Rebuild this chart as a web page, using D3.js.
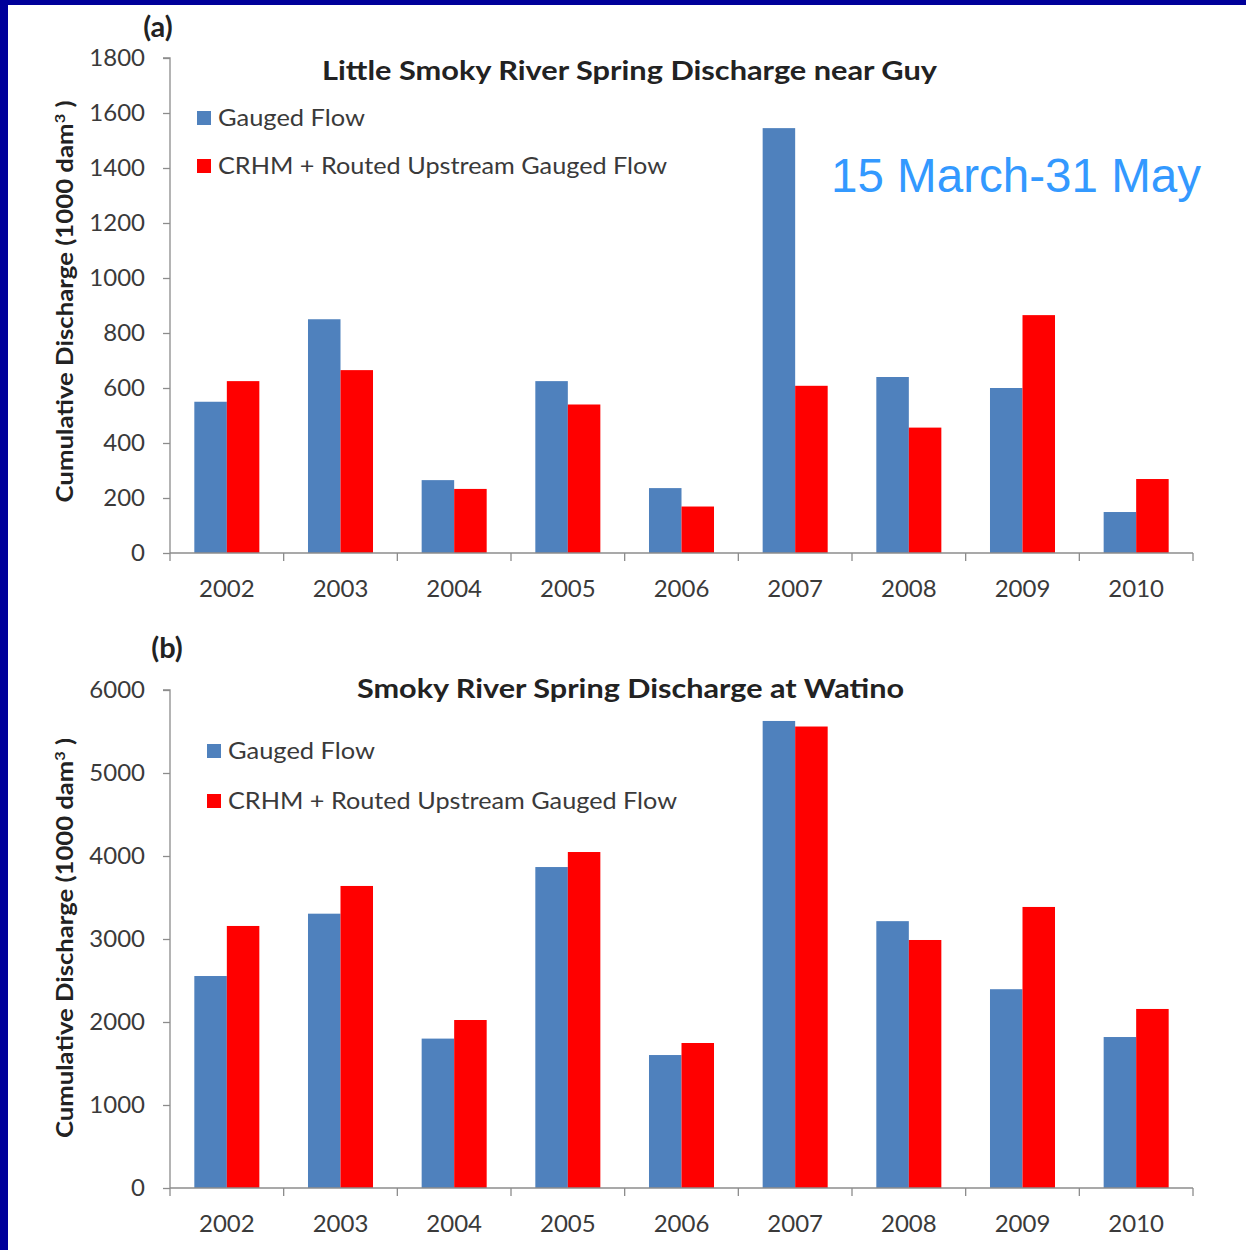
<!DOCTYPE html>
<html>
<head>
<meta charset="utf-8">
<script src="https://cdn.jsdelivr.net/npm/d3@7"></script>
<style>
  html, body { margin: 0; padding: 0; background: #00009a; }
  svg { display: block; }
</style>
</head>
<body>
<svg id="chart" width="1246" height="1250"></svg>
<script>
// Spring (15 March - 31 May) cumulative discharge, 1000 dam³
const years = ['2002', '2003', '2004', '2005', '2006', '2007', '2008', '2009', '2010'];
const seriesNames = ['Gauged Flow', 'CRHM + Routed Upstream Gauged Flow'];
const seriesColors = ['#4f81bd', '#ff0000'];

// (a) Little Smoky River near Guy
const guyGauged = [550, 850, 265, 625, 236, 1545, 640, 600, 149];
const guyModelled = [625, 665, 233, 540, 169, 608, 456, 865, 269];
const guyTicks = [0, 200, 400, 600, 800, 1000, 1200, 1400, 1600, 1800];

// (b) Smoky River at Watino
const watinoGauged = [2554, 3305, 1800, 3867, 1602, 5627, 3215, 2395, 1819];
const watinoModelled = [3157, 3639, 2024, 4048, 1747, 5560, 2988, 3386, 2157];
const watinoTicks = [0, 1000, 2000, 3000, 4000, 5000, 6000];

const svg = d3.select('#chart');
const FONT = 'Lato, "Open Sans", sans-serif';
const AXIS = '#8c8c8c';
const TEXT = '#3a3a3a';

// white slide area inside the navy frame
svg.append('rect').attr('x', 8).attr('y', 5).attr('width', 1238).attr('height', 1245).attr('fill', '#ffffff');

function drawPanel(p) {
  const g = svg.append('g');
  const x = d3.scaleBand().domain(years).range([p.left, p.right]).paddingInner(0).paddingOuter(0);
  const groupW = x.bandwidth() * 0.572;
  const inner = d3.scaleBand().domain([0, 1]).range([0, groupW]);
  const y = d3.scaleLinear().domain([0, p.max]).range([p.bottom, p.top]);

  // bars
  const rows = years.map((yr, i) => ({ yr, vals: [p.a[i], p.b[i]] }));
  const grp = g.selectAll('g.year').data(rows).enter().append('g')
    .attr('transform', d => `translate(${x(d.yr) + (x.bandwidth() - groupW) / 2},0)`);
  grp.selectAll('rect').data(d => d.vals).enter().append('rect')
    .attr('x', (d, i) => inner(i))
    .attr('width', inner.bandwidth())
    .attr('y', d => y(d))
    .attr('height', d => p.bottom - y(d))
    .attr('fill', (d, i) => seriesColors[i]);

  // y axis
  const yAxis = d3.axisLeft(y).tickValues(p.ticks).tickSize(7).tickPadding(18).tickFormat(d3.format('d'));
  const ya = g.append('g').attr('transform', `translate(${p.left},0)`).call(yAxis);
  ya.select('.domain').attr('stroke', AXIS).attr('stroke-width', 1.3).attr('d', `M-7,${p.top}H0V${p.bottom}`);
  ya.selectAll('.tick line').attr('stroke', AXIS).attr('stroke-width', 1.3);
  ya.selectAll('.tick text').attr('font-family', FONT).attr('font-size', 24).attr('fill', TEXT);

  // x axis with ticks between categories
  const xAxis = d3.axisBottom(x).tickSize(0).tickPadding(27);
  const xa = g.append('g').attr('transform', `translate(0,${p.bottom})`).call(xAxis);
  xa.select('.domain').attr('stroke', AXIS).attr('stroke-width', 1.3).attr('d', `M${p.left},0H${p.right}`);
  xa.selectAll('.tick text').attr('font-family', FONT).attr('font-size', 24).attr('fill', TEXT);
  const bounds = years.map(d => x(d)).concat([p.right]);
  xa.selectAll('line.sep').data(bounds).enter().append('line').attr('class', 'sep')
    .attr('x1', d => d).attr('x2', d => d).attr('y1', 0).attr('y2', 8)
    .attr('stroke', AXIS).attr('stroke-width', 1.3);

  // panel letter
  g.append('text').attr('x', p.letterX).attr('y', p.letterY).attr('text-anchor', 'middle')
    .attr('font-family', FONT).attr('font-weight', 'bold').attr('font-size', 29).attr('fill', '#222')
    .text(p.letter);

  // title
  g.append('text').attr('x', (p.titleX0 + p.titleX1) / 2).attr('y', p.titleY).attr('text-anchor', 'middle')
    .attr('font-family', FONT).attr('font-weight', 'bold').attr('font-size', 27).attr('fill', '#222')
    .attr('textLength', p.titleX1 - p.titleX0).attr('lengthAdjust', 'spacingAndGlyphs')
    .text(p.title);

  // y axis title
  const yt = g.append('text')
    .attr('transform', `translate(${p.yTitleX},${(p.top + p.bottom) / 2 + p.yTitleShift}) rotate(-90)`)
    .attr('text-anchor', 'middle').attr('font-family', FONT).attr('font-weight', 'bold')
    .attr('font-size', 22).attr('fill', '#222')
    .attr('textLength', p.yTitleLen).attr('lengthAdjust', 'spacingAndGlyphs');
  yt.append('tspan').text('Cumulative Discharge (1000 dam');
  yt.append('tspan').attr('dy', -8).attr('font-size', 14).text('3');
  yt.append('tspan').attr('dy', 8).text(' )');

  // legend
  seriesNames.forEach((name, i) => {
    const ly = p.legendY + i * p.legendGap;
    g.append('rect').attr('x', p.legendX).attr('y', ly - 7).attr('width', 14).attr('height', 14)
      .attr('fill', seriesColors[i]);
    g.append('text').attr('x', p.legendX + 21).attr('y', ly).attr('dy', '0.35em')
      .attr('font-family', FONT).attr('font-size', 24).attr('fill', TEXT)
      .attr('textLength', p.legendLens[i]).attr('lengthAdjust', 'spacingAndGlyphs')
      .text(name);
  });
}

drawPanel({
  a: guyGauged, b: guyModelled, ticks: guyTicks, max: 1800,
  left: 170, right: 1193, top: 58, bottom: 553,
  letter: '(a)', letterX: 158, letterY: 37,
  title: 'Little Smoky River Spring Discharge near Guy', titleX0: 322, titleX1: 937, titleY: 80,
  yTitleX: 73, yTitleShift: -4, yTitleLen: 402,
  legendX: 197, legendY: 118, legendGap: 48, legendLens: [147, 449]
});

drawPanel({
  a: watinoGauged, b: watinoModelled, ticks: watinoTicks, max: 6000,
  left: 170, right: 1193, top: 690, bottom: 1188,
  letter: '(b)', letterX: 167, letterY: 658,
  title: 'Smoky River Spring Discharge at Watino', titleX0: 357, titleX1: 904, titleY: 698,
  yTitleX: 73, yTitleShift: -1, yTitleLen: 400,
  legendX: 207, legendY: 751, legendGap: 50, legendLens: [147, 449]
});

// date range note
svg.append('text').attr('x', 831).attr('y', 192)
  .attr('font-family', '"Liberation Sans", Arial, sans-serif').attr('font-size', 48).attr('fill', '#3399ff')
  .attr('textLength', 370).attr('lengthAdjust', 'spacingAndGlyphs')
  .text('15 March-31 May');
</script>
</body>
</html>
